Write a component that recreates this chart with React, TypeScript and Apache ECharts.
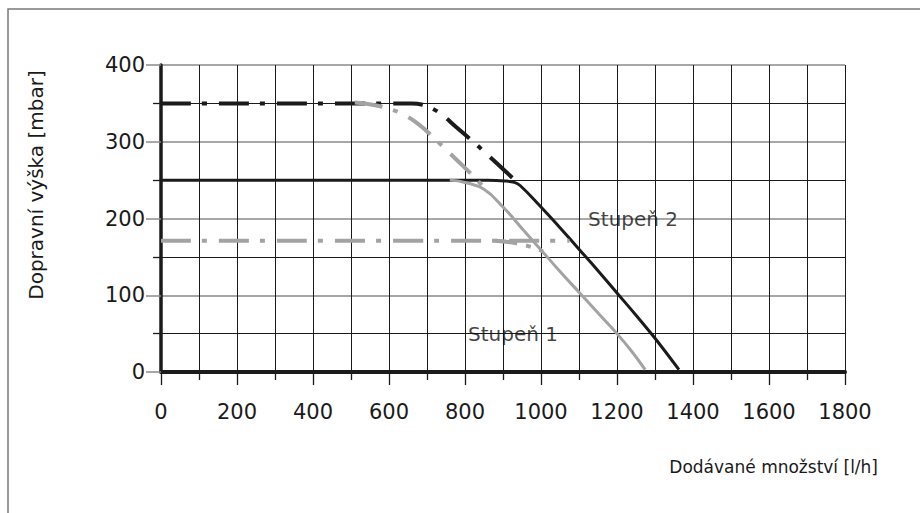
import React, { useEffect, useRef } from "react";
import * as echarts from "echarts";

// Stupeň 2 – solid (black)
const stage2Solid: [number, number][] = [
  [0, 250], [700, 250], [860, 250], [905, 249], [930, 247], [945, 243],
  [1000, 215], [1050, 188], [1100, 160], [1150, 132], [1200, 103], [1250, 74], [1300, 44], [1363, 3],
];
// Stupeň 2 – dash-dot (black, 350 mbar)
const stage2DashDot: [number, number][] = [
  [0, 350], [600, 350], [660, 350], [690, 348], [715, 343], [740, 335], [775, 320],
  [826, 298], [857, 284], [890, 269], [940, 246],
];
// Stupeň 1 – solid (grey)
const stage1Solid: [number, number][] = [
  [760, 250], [800, 247], [850, 238], [900, 215], [950, 187], [1000, 159],
  [1050, 131], [1100, 104], [1150, 77], [1200, 50], [1240, 26], [1274, 3],
];
// Stupeň 1 – dash-dot (grey, 350 mbar)
const stage1DashDot350: [number, number][] = [
  [510, 351], [560, 348], [600, 343], [640, 335], [680, 322], [720, 304],
  [760, 285], [800, 266], [830, 251], [860, 235],
];
// Stupeň 1 – dash-dot (grey, 170 mbar) flat and bend
const stage1DashDot170: [number, number][] = [[0, 171], [1075, 171]];
const stage1DashDot170Bend: [number, number][] = [
  [880, 171], [920, 169], [950, 166], [980, 162], [1005, 157],
];

const xTicks = { min: 0, max: 1800, interval: 200 };
const yTicks = { min: 0, max: 400, interval: 100 };

const annotations = [
  { name: "Stupeň 2", value: [1124, 199] },
  { name: "Stupeň 1", value: [808, 50] },
];

const BLACK = "#1b1b1b";
const GREY = "#a3a3a3";
const FONT = "DejaVu Sans";

export default function App() {
  const ref = useRef<HTMLDivElement>(null);
  useEffect(() => {
    if (!ref.current) return;
    const chart = echarts.init(ref.current, undefined, { renderer: "svg" });
    const dashDot = [30, 11, 5, 12];
    const lineSeries = (data: [number, number][], color: string, width: number, type: any, z: number) => ({
      type: "line",
      data,
      showSymbol: false,
      smooth: 0.45,
      z,
      lineStyle: { color, width, type, cap: "butt" },
      emphasis: { disabled: true },
    });
    chart.setOption({
      animation: false,
      backgroundColor: "#ffffff",
      grid: { left: 161, right: 75, top: 65, bottom: 141 },
      xAxis: {
        type: "value",
        ...xTicks,
        axisLine: { show: true, onZero: false, lineStyle: { color: BLACK, width: 4 } },
        axisTick: { show: true, length: 13, lineStyle: { color: BLACK, width: 1.3 } },
        minorTick: { show: true, splitNumber: 2, length: 8, lineStyle: { color: BLACK, width: 1.3 } },
        splitLine: { show: true, lineStyle: { color: BLACK, width: 1 } },
        minorSplitLine: { show: true, lineStyle: { color: BLACK, width: 1 } },
        axisLabel: {
          color: "#1a1a1a",
          fontSize: 21,
          fontFamily: FONT,
          margin: 29,
          formatter: (v: number) => String(v),
        },
      },
      yAxis: {
        type: "value",
        ...yTicks,
        axisLine: { show: true, onZero: false, lineStyle: { color: BLACK, width: 3.5 } },
        axisTick: { show: true, length: 15, lineStyle: { color: "#8a8a8a", width: 1.5 } },
        minorTick: { show: true, splitNumber: 2, length: 8, lineStyle: { color: BLACK, width: 1.3 } },
        splitLine: { show: true, lineStyle: { color: "#8a8a8a", width: 1.6 } },
        minorSplitLine: { show: true, lineStyle: { color: BLACK, width: 1 } },
        axisLabel: {
          color: "#1a1a1a",
          fontSize: 21,
          fontFamily: FONT,
          margin: 16,
          formatter: (v: number) => String(v),
        },
      },
      series: [
        lineSeries(stage2Solid, BLACK, 3, "solid", 3),
        lineSeries(stage2DashDot, BLACK, 4, dashDot, 3),
        lineSeries(stage1DashDot170, GREY, 4, dashDot, 4),
        lineSeries(stage1DashDot170Bend, GREY, 4, [22, 9, 5, 9], 4),
        lineSeries(stage1DashDot350, GREY, 4, [28, 11, 5, 12], 4),
        lineSeries(stage1Solid, GREY, 3, "solid", 4),
        {
          type: "scatter",
          data: annotations,
          symbolSize: 0,
          z: 6,
          silent: true,
          label: {
            show: true,
            position: "right",
            distance: 0,
            formatter: (p: any) => p.name,
            color: "#111",
            fontSize: 20,
            fontFamily: FONT,
          },
        },
      ],
      graphic: [
        {
          type: "polyline",
          shape: { points: [[8, 513], [8, 9], [920, 9]] },
          style: { stroke: "#7a7a7a", lineWidth: 1.5, fill: null },
          silent: true,
        },
        {
          type: "text",
          x: 36,
          y: 185,
          rotation: Math.PI / 2,
          style: {
            text: "Dopravní výška [mbar]",
            font: `20px "${FONT}"`,
            fill: "#1a1a1a",
            align: "center",
            verticalAlign: "middle",
            textAlign: "center",
            textVerticalAlign: "middle",
          },
        },
        {
          type: "text",
          x: 878,
          y: 467,
          style: {
            text: "Dodávané množství [l/h]",
            font: `17px "${FONT}"`,
            fill: "#1a1a1a",
            align: "right",
            verticalAlign: "middle",
            textAlign: "right",
            textVerticalAlign: "middle",
          },
        },
      ],
    });
    return () => chart.dispose();
  }, []);
  return (
    <div
      ref={ref}
      style={{ position: "fixed", left: 0, top: 0, width: 920, height: 513, background: "#fff" }}
    />
  );
}
